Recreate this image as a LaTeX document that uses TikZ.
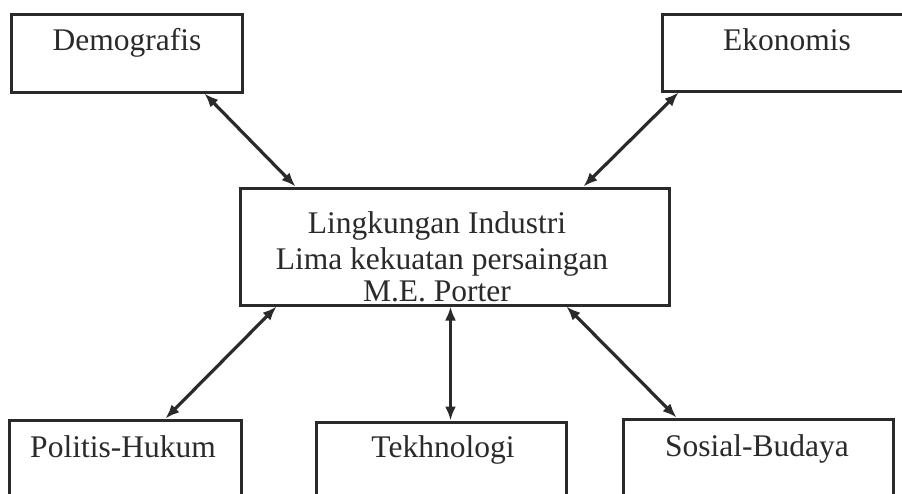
\documentclass[tikz,border=0pt]{standalone}
\usepackage{fontspec}
\setmainfont{Liberation Serif}
\usetikzlibrary{arrows.meta}
\definecolor{ink}{HTML}{2A2A2A}
\tikzset{
  box/.style={draw=ink, line width=3pt, rectangle, inner sep=0pt},
  lbl/.style={text=ink, font=\fontsize{31.5}{34}\selectfont, inner sep=0pt},
  link/.style={draw=ink, line width=3.2pt, {Latex[length=14pt,width=11pt]}-{Latex[length=14pt,width=11pt]}}
}
\begin{document}
\begin{tikzpicture}[x=1pt,y=-1pt]
\useasboundingbox (0,0) rectangle (902,493);
\clip (0,0) rectangle (902,493);
\fill[white] (0,0) rectangle (902,493);
% boxes
\node[box, minimum width=231pt, minimum height=78pt] (demo) at (126.5,53) {};
\node[box, minimum width=248pt, minimum height=77pt] (eko) at (786,52.5) {};
\node[box, minimum width=429pt, minimum height=117pt] (ctr) at (454.5,246.5) {};
\node[box, minimum width=232pt, minimum height=90pt] (pol) at (125,465) {};
\node[box, minimum width=250pt, minimum height=88pt] (tek) at (441,466) {};
\node[box, minimum width=270pt, minimum height=91pt] (sos) at (758,464.5) {};
% labels
\node[lbl, anchor=base] (demot) at (127,50) {Demografis};
\node[lbl, anchor=base] (ekot) at (787,50) {Ekonomis};
\node[lbl, anchor=base] (polt) at (123,457) {Politis-Hukum};
\node[lbl, anchor=base] (tekt) at (443,457) {Tekhnologi};
\node[lbl, anchor=base] (sost) at (757,456) {Sosial-Budaya};
\node[lbl, anchor=base] (c1) at (437,233) {Lingkungan Industri};
\node[lbl, anchor=base] (c2) at (442,269) {Lima kekuatan persaingan};
\node[lbl, anchor=base] (c3) at (437,301) {M.E. Porter};
% connectors
\draw[link] ([xshift=195pt]demo.south west) -- ([xshift=57pt]ctr.north west);
\draw[link] ([xshift=18pt]eko.south west) -- ([xshift=345pt]ctr.north west);
\draw[link] ([xshift=38pt]ctr.south west) -- ([xshift=158pt]pol.north west);
\draw[link] ([xshift=212pt]ctr.south west) -- ([xshift=136pt]tek.north west);
\draw[link] ([xshift=328pt]ctr.south west) -- ([xshift=55pt]sos.north west);
\end{tikzpicture}
\end{document}
